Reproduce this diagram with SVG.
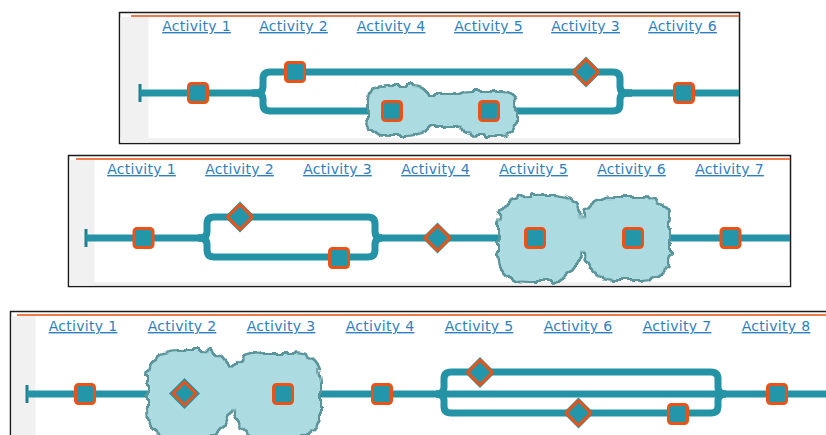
<svg xmlns="http://www.w3.org/2000/svg" width="826" height="435" viewBox="0 0 826 435">
<style>
.frame{fill:#ffffff;stroke:#1a1a1a;stroke-width:1.5}
.strip{fill:#f1f1f1}
.rule{stroke:#f07a4a;stroke-width:2}
.lbl{font-family:"DejaVu Sans",Verdana,sans-serif;font-size:14px;letter-spacing:0.3px;fill:#2f7fc0;text-decoration:underline;text-anchor:middle}
.edge{fill:none;stroke:#2393a5;stroke-width:7;stroke-linejoin:round}
.bar{fill:none;stroke:#1d7f8f;stroke-width:3}
.sq{fill:#2397a9;stroke:#ea5318;stroke-width:3}
.dout{fill:#2393a5}
.din{fill:#2397a9;stroke:#ea5318;stroke-width:3;stroke-linejoin:round}
.cloud{fill:#addbe2;stroke:none}
</style>
<defs>
<filter id="rough" x="-10%" y="-15%" width="120%" height="130%">
<feTurbulence type="fractalNoise" baseFrequency="0.14" numOctaves="1" seed="5" result="n"/>
<feDisplacementMap in="SourceGraphic" in2="n" scale="10" xChannelSelector="R" yChannelSelector="G" result="d"/>
<feMorphology in="d" operator="erode" radius="1.6" result="e"/>
<feFlood flood-color="#5a959b" result="sc"/>
<feComposite in="sc" in2="d" operator="in" result="outer"/>
<feFlood flood-color="#addbe2" result="fc"/>
<feComposite in="fc" in2="e" operator="in" result="inner"/>
<feMerge><feMergeNode in="outer"/><feMergeNode in="inner"/></feMerge>
</filter>
</defs>

<!-- Panel 1 frame -->
<g id="panel1">
<rect class="frame" x="119.5" y="12.5" width="620" height="131"/>
<rect class="strip" x="120.5" y="17" width="28" height="125.5"/>
<rect class="strip" x="120.5" y="138" width="618.5" height="4.5"/>
<line class="rule" x1="131" y1="16" x2="739" y2="16"/>
<text class="lbl" x="196.5" y="31">Activity 1</text>
<text class="lbl" x="293.5" y="31">Activity 2</text>
<text class="lbl" x="391" y="31">Activity 4</text>
<text class="lbl" x="488.5" y="31">Activity 5</text>
<text class="lbl" x="585.5" y="31">Activity 3</text>
<text class="lbl" x="682.5" y="31">Activity 6</text>
</g>

<!-- Panel 2 frame -->
<g id="panel2">
<rect class="frame" x="68.5" y="155.5" width="722" height="131"/>
<rect class="strip" x="69.5" y="160" width="25" height="125.5"/>
<rect class="strip" x="69.5" y="282" width="720.5" height="3.5"/>
<line class="rule" x1="76" y1="159" x2="790" y2="159"/>
<text class="lbl" x="141.5" y="174">Activity 1</text>
<text class="lbl" x="239.5" y="174">Activity 2</text>
<text class="lbl" x="337.5" y="174">Activity 3</text>
<text class="lbl" x="435.5" y="174">Activity 4</text>
<text class="lbl" x="533.5" y="174">Activity 5</text>
<text class="lbl" x="631.5" y="174">Activity 6</text>
<text class="lbl" x="729.5" y="174">Activity 7</text>
</g>

<!-- Panel 3 frame -->
<g id="panel3">
<rect class="frame" x="10.5" y="311.5" width="830" height="140"/>
<rect class="strip" x="11.5" y="316" width="24" height="125"/>
<line class="rule" x1="17" y1="315" x2="826" y2="315"/>
<text class="lbl" x="83" y="331">Activity 1</text>
<text class="lbl" x="182" y="331">Activity 2</text>
<text class="lbl" x="281" y="331">Activity 3</text>
<text class="lbl" x="380" y="331">Activity 4</text>
<text class="lbl" x="479" y="331">Activity 5</text>
<text class="lbl" x="578" y="331">Activity 6</text>
<text class="lbl" x="677" y="331">Activity 7</text>
<text class="lbl" x="776" y="331">Activity 8</text>
</g>

<!-- Connectors -->
<g id="connectors">
<path class="bar" d="M140 84 L140 102"/>
<path class="edge" d="M140 93 L258 93 M625 93 L739 93"/>
<path class="edge" d="M252 93 L256 93 Q263 93 263 86 L263 79 Q263 72 270 72 L613 72 Q620 72 620 79 L620 86 Q620 93 627 93 L632 93"/>
<path class="edge" d="M252 93 L256 93 Q263 93 263 100 L263 104 Q263 111 270 111 L613 111 Q620 111 620 104 L620 100 Q620 93 627 93 L632 93"/>

<path class="bar" d="M86 229 L86 247"/>
<path class="edge" d="M86 238 L203 238 M377 238 L790 238"/>
<path class="edge" d="M198 238 L200 238 Q207 238 207 231 L207 224 Q207 217 214 217 L368 217 Q375 217 375 224 L375 231 Q375 238 382 238"/>
<path class="edge" d="M198 238 L200 238 Q207 238 207 245 L207 250 Q207 257 214 257 L368 257 Q375 257 375 250 L375 245 Q375 238 382 238"/>

<path class="bar" d="M27 385 L27 403"/>
<path class="edge" d="M27 394 L826 394"/>
<path class="edge" d="M436 394 Q444 394 444 387 L444 379 Q444 372 451 372 L711 372 Q718 372 718 379 L718 387 Q718 394 726 394"/>
<path class="edge" d="M436 394 Q444 394 444 401 L444 406 Q444 413 451 413 L711 413 Q718 413 718 406 L718 401 Q718 394 726 394"/>
</g>

<!-- Clouds -->
<g id="cloud1" filter="url(#rough)">
<path class="cloud" d="M366 103 C366 90 375 84 390 84 L412 84 C422 84 426 88 430 93 L458 93 C462 91 466 90 472 90 L500 90 C512 90 517 96 517 106 L517 122 C517 132 510 137 498 137 L478 137 C468 137 462 133 458 128 L432 128 C426 133 418 137 408 137 L388 137 C374 137 366 130 366 120 Z"/>
</g>
<g id="cloud2" filter="url(#rough)">
<path class="cloud" d="M497 225 C497 205 510 194 530 194 L555 194 C572 194 580 203 582 216 C586 203 597 196 615 196 L645 196 C662 196 671 208 671 225 L671 252 C671 270 660 281 642 281 L612 281 C597 281 586 268 582 252 C579 270 568 283 550 283 L527 283 C508 283 497 272 497 255 Z"/>
</g>
<g id="cloud3" filter="url(#rough)">
<path class="cloud" d="M146 380 C146 360 158 349 178 349 L200 349 C220 349 229 358 232 368 C236 358 246 352 265 352 L292 352 C312 352 322 363 322 383 L322 410 C322 430 310 440 290 440 L262 440 C245 440 236 425 232 408 C228 428 218 440 200 440 L176 440 C156 440 146 428 146 410 Z"/>
</g>

<!-- Panel 1 nodes -->
<g id="p1-a1"><rect class="sq" x="188.5" y="83.5" width="19" height="19" rx="3"/></g>
<g id="p1-a2"><rect class="sq" x="285.5" y="62.5" width="19" height="19" rx="3"/></g>
<g id="p1-a4"><rect class="sq" x="382.5" y="101.5" width="19" height="19" rx="3"/></g>
<g id="p1-a5"><rect class="sq" x="479.5" y="101.5" width="19" height="19" rx="3"/></g>
<g id="p1-a3"><polygon class="dout" points="586,56.5 601.5,72 586,87.5 570.5,72"/><polygon class="din" points="586,59.5 598.5,72 586,84.5 573.5,72"/></g>
<g id="p1-a6"><rect class="sq" x="674.5" y="83.5" width="19" height="19" rx="3"/></g>

<!-- Panel 2 nodes -->
<g id="p2-a1"><rect class="sq" x="134" y="228.5" width="19" height="19" rx="3"/></g>
<g id="p2-a2"><polygon class="dout" points="240,201.5 255.5,217 240,232.5 224.5,217"/><polygon class="din" points="240,204.5 252.5,217 240,229.5 227.5,217"/></g>
<g id="p2-a3"><rect class="sq" x="329.5" y="248.5" width="19" height="19" rx="3"/></g>
<g id="p2-a4"><polygon class="dout" points="437.5,222.5 453,238 437.5,253.5 422,238"/><polygon class="din" points="437.5,225.5 450,238 437.5,250.5 425,238"/></g>
<g id="p2-a5"><rect class="sq" x="525.5" y="228.5" width="19" height="19" rx="3"/></g>
<g id="p2-a6"><rect class="sq" x="623.5" y="228.5" width="19" height="19" rx="3"/></g>
<g id="p2-a7"><rect class="sq" x="721" y="228.5" width="19" height="19" rx="3"/></g>

<!-- Panel 3 nodes -->
<g id="p3-a1"><rect class="sq" x="75.5" y="384.5" width="19" height="19" rx="3"/></g>
<g id="p3-a2"><polygon class="dout" points="184.5,378 200,393.5 184.5,409 169,393.5"/><polygon class="din" points="184.5,382 196,393.5 184.5,405 173,393.5"/></g>
<g id="p3-a3"><rect class="sq" x="273.5" y="384.5" width="19" height="19" rx="3"/></g>
<g id="p3-a4"><rect class="sq" x="372.5" y="384.5" width="19" height="19" rx="3"/></g>
<g id="p3-a5"><polygon class="dout" points="480,357 495.5,372.5 480,388 464.5,372.5"/><polygon class="din" points="480,360 492.5,372.5 480,385 467.5,372.5"/></g>
<g id="p3-a6"><polygon class="dout" points="578.5,397.5 594,413 578.5,428.5 563,413"/><polygon class="din" points="578.5,400.5 591,413 578.5,425.5 566,413"/></g>
<g id="p3-a7"><rect class="sq" x="668.5" y="404.5" width="19" height="19" rx="3"/></g>
<g id="p3-a8"><rect class="sq" x="767.5" y="384.5" width="19" height="19" rx="3"/></g>
</svg>
